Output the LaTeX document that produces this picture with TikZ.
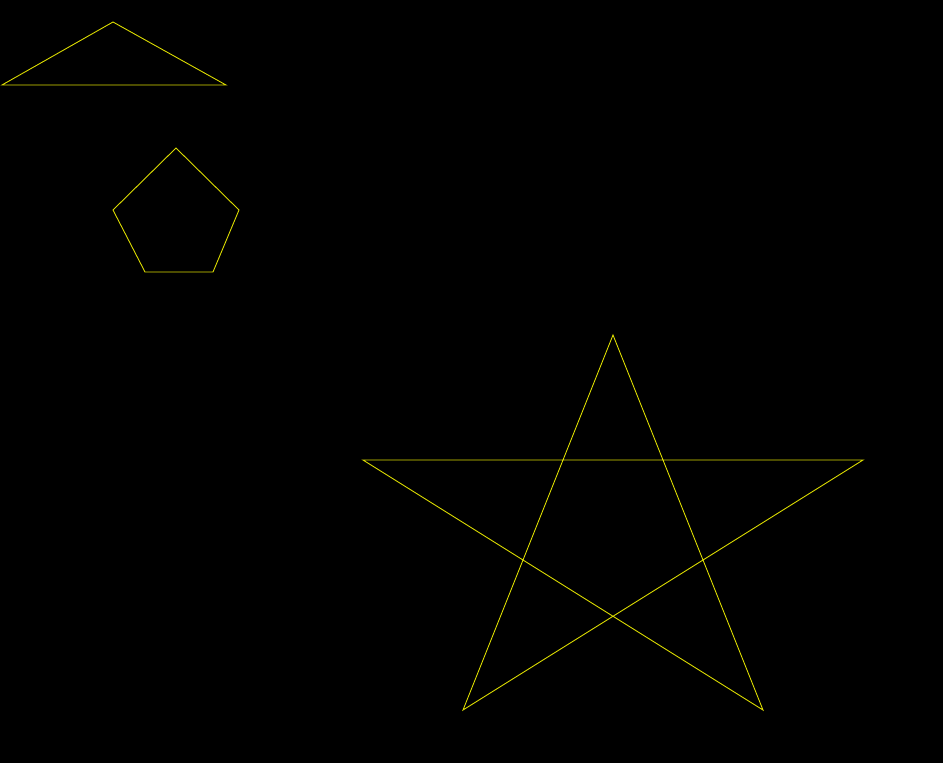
\documentclass[tikz,border=0pt]{standalone}
\usepackage{tikz}
\definecolor{lineyellow}{RGB}{220,220,0}
\tikzset{outline/.style={draw=lineyellow,line width=.9pt,line join=miter}}

\begin{document}
\begin{tikzpicture}[x=1pt,y=-1pt]
  \path[use as bounding box,fill=black] (0,0) rectangle (943,763);
  % triangle
  \draw[outline] (2,85) -- (113,22) -- (226,85) -- cycle;
  % pentagon
  \draw[outline] (176,148) -- (239,210) -- (213,272) -- (145,272) -- (113,210) -- cycle;
  % star
  \draw[outline] (613,335) -- (763,710) -- (363,460) -- (863,460) -- (463,710) -- cycle;
\end{tikzpicture}
\end{document}
